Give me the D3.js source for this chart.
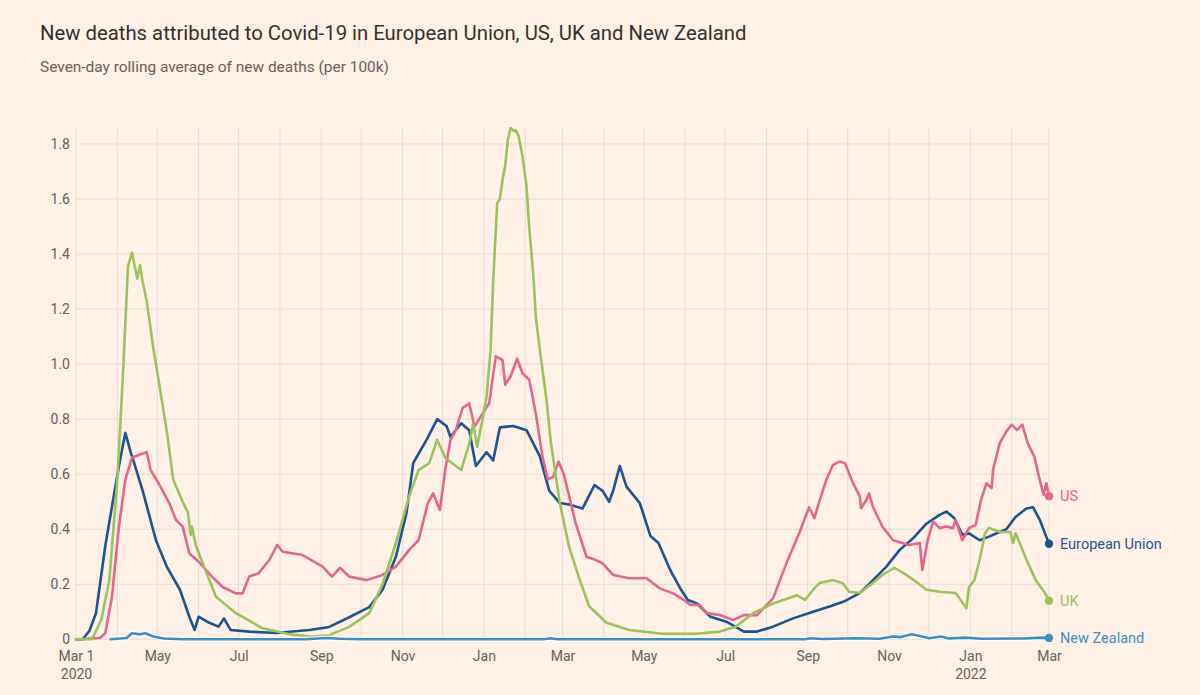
<!DOCTYPE html>
<html>
<head>
<meta charset="utf-8">
<script src="https://cdn.jsdelivr.net/npm/d3@7"></script>
<style>
  html, body { margin: 0; padding: 0; background: #fff1e5; }
  svg { display: block; }
</style>
</head>
<body>
<svg id="chart" width="1200" height="695"></svg>
<script>
const title = "New deaths attributed to Covid-19 in European Union, US, UK and New Zealand";
const subtitle = "Seven-day rolling average of new deaths (per 100k)";

const yTicks = [0, 0.2, 0.4, 0.6, 0.8, 1.0, 1.2, 1.4, 1.6, 1.8];
const xTickDates = ["2020-03-01","2020-05-01","2020-07-01","2020-09-01","2020-11-01","2021-01-01","2021-03-01","2021-05-01","2021-07-01","2021-09-01","2021-11-01","2022-01-01","2022-03-01"];
const xTickLabels = [["Mar 1","2020"],["May"],["Jul"],["Sep"],["Nov"],["Jan"],["Mar"],["May"],["Jul"],["Sep"],["Nov"],["Jan","2022"],["Mar"]];

const seriesNames = ["European Union", "US", "UK", "New Zealand"];
const seriesColors = ["#1a5592", "#e2678f", "#9cc25a", "#3a8fc6"];

const euData = [
["2020-03-01",0],["2020-03-06",0.0],["2020-03-11",0.03],["2020-03-16",0.095],["2020-03-23",0.34],["2020-03-30",0.54],["2020-04-03",0.65],["2020-04-07",0.75],["2020-04-11",0.68],["2020-04-14",0.635],["2020-04-20",0.54],["2020-04-30",0.36],["2020-05-08",0.265],["2020-05-18",0.18],["2020-05-25",0.082],["2020-05-29",0.034],["2020-06-01",0.082],["2020-06-09",0.06],["2020-06-16",0.046],["2020-06-20",0.076],["2020-06-25",0.034],["2020-07-09",0.028],["2020-07-29",0.023],["2020-08-23",0.034],["2020-09-07",0.045],["2020-09-22",0.08],["2020-10-07",0.117],["2020-10-17",0.18],["2020-10-27",0.30],["2020-11-04",0.46],["2020-11-09",0.64],["2020-11-19",0.725],["2020-11-27",0.80],["2020-12-04",0.775],["2020-12-07",0.735],["2020-12-15",0.785],["2020-12-21",0.76],["2020-12-26",0.63],["2021-01-03",0.68],["2021-01-08",0.65],["2021-01-13",0.77],["2021-01-23",0.775],["2021-02-02",0.76],["2021-02-12",0.665],["2021-02-19",0.54],["2021-02-27",0.495],["2021-03-06",0.49],["2021-03-16",0.475],["2021-03-25",0.56],["2021-03-31",0.54],["2021-04-05",0.50],["2021-04-08",0.54],["2021-04-13",0.63],["2021-04-18",0.555],["2021-04-28",0.495],["2021-05-06",0.375],["2021-05-12",0.35],["2021-05-21",0.25],["2021-05-29",0.18],["2021-06-03",0.143],["2021-06-10",0.13],["2021-06-20",0.082],["2021-07-02",0.064],["2021-07-15",0.028],["2021-07-25",0.028],["2021-08-06",0.046],["2021-08-21",0.076],["2021-09-05",0.10],["2021-09-18",0.12],["2021-09-28",0.137],["2021-10-10",0.168],["2021-10-20",0.215],["2021-10-30",0.264],["2021-11-09",0.325],["2021-11-19",0.367],["2021-11-29",0.42],["2021-12-09",0.452],["2021-12-14",0.464],["2021-12-20",0.44],["2021-12-26",0.38],["2021-12-31",0.385],["2022-01-08",0.36],["2022-01-15",0.373],["2022-01-23",0.39],["2022-01-28",0.40],["2022-02-04",0.445],["2022-02-12",0.475],["2022-02-17",0.48],["2022-02-22",0.435],["2022-02-26",0.385],["2022-03-01",0.347]
];

const usData = [
["2020-03-01",0],["2020-03-19",0.005],["2020-03-23",0.023],["2020-03-28",0.155],["2020-04-02",0.40],["2020-04-07",0.58],["2020-04-12",0.66],["2020-04-17",0.67],["2020-04-23",0.68],["2020-04-26",0.615],["2020-05-02",0.567],["2020-05-10",0.495],["2020-05-15",0.434],["2020-05-20",0.41],["2020-05-25",0.313],["2020-06-01",0.282],["2020-06-11",0.228],["2020-06-19",0.19],["2020-06-29",0.167],["2020-07-04",0.167],["2020-07-09",0.228],["2020-07-16",0.24],["2020-07-24",0.288],["2020-07-30",0.343],["2020-08-03",0.318],["2020-08-18",0.306],["2020-09-02",0.264],["2020-09-09",0.228],["2020-09-15",0.26],["2020-09-22",0.228],["2020-10-05",0.215],["2020-10-17",0.234],["2020-10-27",0.264],["2020-11-06",0.325],["2020-11-13",0.36],["2020-11-20",0.495],["2020-11-24",0.53],["2020-11-29",0.47],["2020-12-03",0.615],["2020-12-07",0.725],["2020-12-11",0.76],["2020-12-16",0.84],["2020-12-21",0.858],["2020-12-25",0.773],["2020-12-31",0.82],["2021-01-05",0.858],["2021-01-10",1.028],["2021-01-15",1.015],["2021-01-17",0.925],["2021-01-21",0.955],["2021-01-26",1.02],["2021-01-30",0.967],["2021-02-04",0.943],["2021-02-09",0.82],["2021-02-14",0.664],["2021-02-18",0.58],["2021-02-22",0.59],["2021-02-26",0.646],["2021-03-02",0.60],["2021-03-06",0.52],["2021-03-11",0.42],["2021-03-19",0.30],["2021-03-26",0.288],["2021-03-31",0.276],["2021-04-08",0.234],["2021-04-20",0.222],["2021-05-03",0.222],["2021-05-13",0.185],["2021-05-23",0.167],["2021-05-31",0.143],["2021-06-05",0.125],["2021-06-12",0.125],["2021-06-17",0.095],["2021-06-27",0.088],["2021-07-07",0.07],["2021-07-15",0.088],["2021-07-25",0.088],["2021-08-06",0.149],["2021-08-16",0.276],["2021-08-26",0.39],["2021-09-02",0.48],["2021-09-06",0.44],["2021-09-10",0.506],["2021-09-15",0.58],["2021-09-20",0.634],["2021-09-25",0.646],["2021-09-29",0.64],["2021-10-05",0.567],["2021-10-10",0.52],["2021-10-11",0.476],["2021-10-15",0.506],["2021-10-17",0.53],["2021-10-20",0.48],["2021-10-27",0.41],["2021-11-04",0.36],["2021-11-16",0.343],["2021-11-24",0.35],["2021-11-26",0.252],["2021-11-30",0.36],["2021-12-04",0.428],["2021-12-09",0.404],["2021-12-14",0.41],["2021-12-19",0.404],["2021-12-21",0.434],["2021-12-26",0.36],["2021-12-31",0.404],["2022-01-05",0.416],["2022-01-09",0.506],["2022-01-13",0.567],["2022-01-17",0.55],["2022-01-18",0.615],["2022-01-23",0.713],["2022-01-28",0.755],["2022-02-01",0.78],["2022-02-05",0.76],["2022-02-09",0.78],["2022-02-13",0.713],["2022-02-18",0.664],["2022-02-22",0.58],["2022-02-25",0.525],["2022-02-27",0.567],["2022-03-01",0.52]
];

const ukData = [
["2020-03-01",0],["2020-03-13",0.0],["2020-03-20",0.07],["2020-03-26",0.215],["2020-04-01",0.58],["2020-04-05",0.94],["2020-04-09",1.355],["2020-04-12",1.405],["2020-04-16",1.31],["2020-04-18",1.36],["2020-04-20",1.30],["2020-04-23",1.23],["2020-04-28",1.06],["2020-05-02",0.94],["2020-05-08",0.76],["2020-05-13",0.58],["2020-05-20",0.50],["2020-05-24",0.46],["2020-05-26",0.38],["2020-05-27",0.41],["2020-05-30",0.34],["2020-06-04",0.277],["2020-06-14",0.155],["2020-06-29",0.095],["2020-07-19",0.04],["2020-08-11",0.016],["2020-08-25",0.01],["2020-09-07",0.015],["2020-09-22",0.045],["2020-10-07",0.095],["2020-10-17",0.20],["2020-10-27",0.35],["2020-11-06",0.52],["2020-11-13",0.615],["2020-11-21",0.64],["2020-11-27",0.725],["2020-12-03",0.66],["2020-12-11",0.63],["2020-12-15",0.615],["2020-12-21",0.71],["2020-12-24",0.785],["2020-12-27",0.70],["2020-12-31",0.80],["2021-01-03",0.88],["2021-01-06",1.05],["2021-01-08",1.30],["2021-01-11",1.585],["2021-01-13",1.60],["2021-01-15",1.67],["2021-01-17",1.72],["2021-01-19",1.815],["2021-01-21",1.858],["2021-01-24",1.846],["2021-01-25",1.85],["2021-01-27",1.83],["2021-01-30",1.755],["2021-02-02",1.645],["2021-02-04",1.50],["2021-02-07",1.33],["2021-02-09",1.17],["2021-02-13",1.015],["2021-02-17",0.87],["2021-02-20",0.725],["2021-02-27",0.495],["2021-03-06",0.335],["2021-03-14",0.215],["2021-03-21",0.12],["2021-04-03",0.06],["2021-04-20",0.034],["2021-05-15",0.02],["2021-06-09",0.02],["2021-06-27",0.028],["2021-07-09",0.046],["2021-07-22",0.095],["2021-08-06",0.13],["2021-08-24",0.16],["2021-08-30",0.143],["2021-09-05",0.18],["2021-09-10",0.205],["2021-09-20",0.215],["2021-09-27",0.205],["2021-10-02",0.173],["2021-10-10",0.168],["2021-10-20",0.205],["2021-10-27",0.234],["2021-11-05",0.26],["2021-11-14",0.234],["2021-11-21",0.21],["2021-11-29",0.18],["2021-12-09",0.173],["2021-12-21",0.168],["2021-12-29",0.113],["2021-12-31",0.19],["2022-01-04",0.215],["2022-01-08",0.29],["2022-01-12",0.385],["2022-01-15",0.405],["2022-01-23",0.39],["2022-01-31",0.39],["2022-02-02",0.35],["2022-02-04",0.385],["2022-02-12",0.29],["2022-02-19",0.215],["2022-02-26",0.168],["2022-03-01",0.14]
];

const nzData = [
["2020-03-27",0],["2020-04-08",0.005],["2020-04-12",0.022],["2020-04-18",0.018],["2020-04-22",0.022],["2020-04-28",0.01],["2020-05-06",0.003],["2020-05-20",0.0],["2020-08-20",0.0],["2020-09-05",0.005],["2020-09-15",0.002],["2020-10-01",0],["2021-02-15",0],["2021-02-20",0.004],["2021-02-25",0],["2021-08-30",0.0],["2021-09-03",0.004],["2021-09-12",0.001],["2021-10-07",0.004],["2021-10-25",0.002],["2021-11-04",0.01],["2021-11-10",0.008],["2021-11-18",0.018],["2021-11-24",0.012],["2021-12-01",0.004],["2021-12-10",0.01],["2021-12-16",0.003],["2021-12-28",0.006],["2022-01-10",0.002],["2022-02-10",0.003],["2022-02-24",0.006],["2022-03-01",0.005]
];

const seriesData = [euData, usData, ukData, nzData];

// ---------- drawing ----------
const svg = d3.select("#chart");
const W = 1200, H = 695;
const plot = { left: 76, right: 1049, top: 128, bottom: 639.3 };
const parse = d3.timeParse("%Y-%m-%d");

svg.append("rect").attr("width", W).attr("height", H).attr("fill", "#fff1e5");

const x = d3.scaleTime()
  .domain([parse("2020-03-01"), parse("2022-03-01")])
  .range([plot.left, plot.right]);
const y = d3.scaleLinear()
  .domain([0, 1.858])
  .range([plot.bottom, plot.top]);

const font = "Roboto, 'Open Sans', sans-serif";

// title
const t = svg.append("text").attr("x", 40).attr("y", 40)
  .attr("font-family", font).attr("font-size", 19).attr("fill", "#33302e").text(title);
const st = svg.append("text").attr("x", 40).attr("y", 72)
  .attr("font-family", font).attr("font-size", 13).attr("fill", "#66605c").text(subtitle);
// fit font-size to reference widths
function fit(sel, target) {
  const w = sel.node().getComputedTextLength();
  const fs = +sel.attr("font-size");
  sel.attr("font-size", (fs * target / w).toFixed(2));
}
fit(t, 707);
fit(st, 349);

const grid = svg.append("g");
// vertical monthly grid
const months = d3.timeMonth.range(parse("2020-03-01"), d3.timeDay.offset(parse("2022-03-01"), 1));
grid.selectAll("line.v").data(months).join("line")
  .attr("x1", d => x(d)).attr("x2", d => x(d))
  .attr("y1", plot.top).attr("y2", plot.bottom)
  .attr("stroke", "#e8dbcf").attr("stroke-width", 1);
// horizontal grid
grid.selectAll("line.h").data(yTicks).join("line")
  .attr("x1", plot.left).attr("x2", plot.right)
  .attr("y1", d => y(d)).attr("y2", d => y(d))
  .attr("stroke", "#e8dbcf").attr("stroke-width", 1);

// y axis labels
const yAxis = d3.axisLeft(y).tickValues(yTicks).tickSize(0).tickPadding(6)
  .tickFormat(d => d === 0 ? "0" : d3.format(".1f")(d));
const yg = svg.append("g").attr("transform", `translate(${plot.left},0)`).call(yAxis);
yg.select(".domain").remove();
yg.selectAll("text").attr("font-family", font).attr("font-size", 14).attr("fill", "#66605c");

// x axis labels
const xDates = xTickDates.map(parse);
const xAxis = d3.axisBottom(x).tickValues(xDates).tickSize(0).tickPadding(12)
  .tickFormat(() => "");
const xg = svg.append("g").attr("transform", `translate(0,${plot.bottom})`).call(xAxis);
xg.select(".domain").remove();
xg.selectAll(".tick text").each(function(d, i) {
  const el = d3.select(this);
  el.attr("font-family", font).attr("font-size", 14).attr("fill", "#66605c");
  xTickLabels[i].forEach((s, j) => {
    el.append("tspan").attr("x", 0).attr("dy", j === 0 ? "0.71em" : "1.3em").text(s);
  });
});

// lines
const line = d3.line().x(d => x(parse(d[0]))).y(d => y(d[1]));
const lines = svg.append("g");
seriesData.forEach((data, i) => {
  if (i === 3) {
    lines.append("path").attr("d", line(data)).attr("fill", "none")
      .attr("stroke", "#ffffff").attr("stroke-opacity", 0.8).attr("stroke-width", 5)
      .attr("stroke-linejoin", "round");
  }
  lines.append("path").attr("d", line(data)).attr("fill", "none")
    .attr("stroke", seriesColors[i]).attr("stroke-width", 2.6)
    .attr("stroke-linejoin", "round").attr("stroke-linecap", "round");
});

// end dots and labels
seriesData.forEach((data, i) => {
  const last = data[data.length - 1];
  const cx = x(parse(last[0])), cy = y(last[1]);
  svg.append("circle").attr("cx", cx).attr("cy", cy).attr("r", 4.2).attr("fill", seriesColors[i]);
  svg.append("text").attr("x", cx + 11).attr("y", cy).attr("dy", "0.35em")
    .attr("font-family", font).attr("font-size", 14.5).attr("fill", seriesColors[i])
    .text(seriesNames[i]);
});
</script>
</body>
</html>
